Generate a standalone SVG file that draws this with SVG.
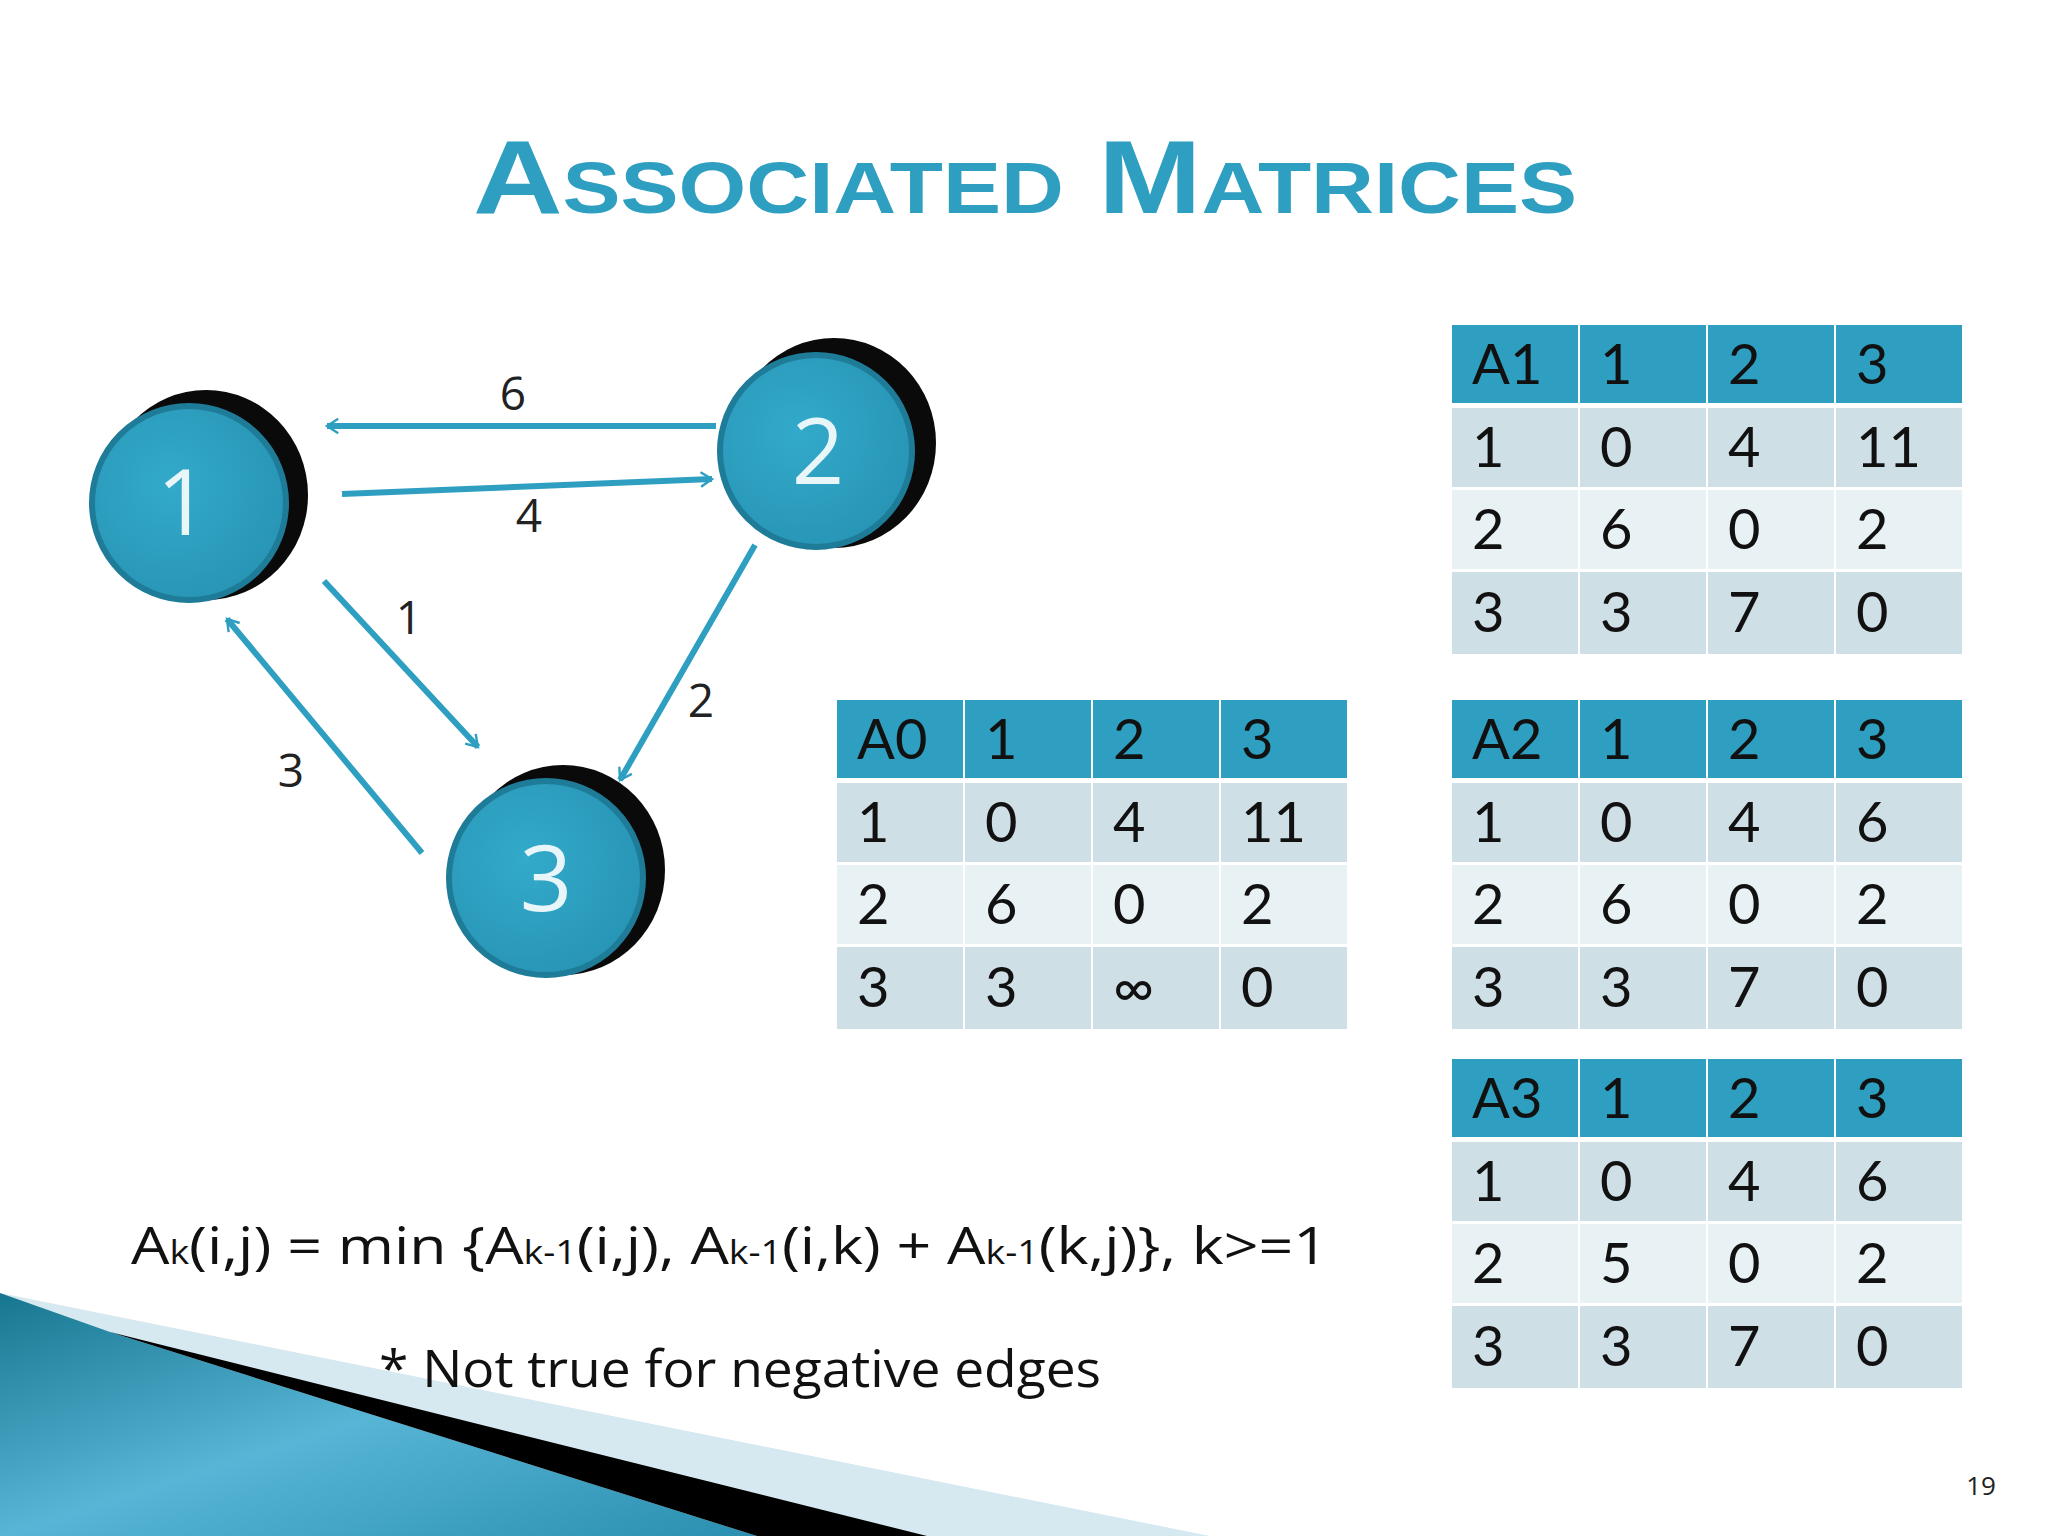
<svg xmlns="http://www.w3.org/2000/svg" width="2048" height="1536" viewBox="0 0 2048 1536">
<style>
.h{fill:#2E9FC1}.o{fill:#CFDFE6}.e{fill:#E8F1F4}
.t{font-family:Lato,"Open Sans",sans-serif;font-size:56px;fill:#111}
.lbl{font-family:"Open Sans",sans-serif;font-size:46px;fill:#222}
.edge{stroke:#2E9FC1;stroke-width:6;fill:none;marker-end:url(#ah)}
.nt{font-family:"Open Sans",sans-serif;font-size:92px;fill:#E8F6FA}
.f{font-family:"Open Sans",sans-serif;font-size:52px;fill:#111}
</style>
<defs>
<marker id="ah" viewBox="0 0 20 20" refX="18" refY="10" markerWidth="8" markerHeight="8" orient="auto" markerUnits="userSpaceOnUse" style="overflow:visible">
<path d="M-10,-8 L18,10 L-10,28" fill="none" stroke="#2E9FC1" stroke-width="6"/>
</marker>
<linearGradient id="tg" x1="0" y1="0" x2="1" y2="1">
<stop offset="0" stop-color="#17768F"/><stop offset="0.5" stop-color="#57B5D6"/><stop offset="1" stop-color="#2A8FB0"/>
</linearGradient>
<radialGradient id="ng" cx="0.4" cy="0.4" r="0.7">
<stop offset="0" stop-color="#33AACB"/><stop offset="1" stop-color="#2793B3"/>
</radialGradient>
<g id="tbl">
<rect class="h" x="0" y="0" width="126" height="78"/><rect class="h" x="128" y="0" width="126" height="78"/><rect class="h" x="256" y="0" width="126" height="78"/><rect class="h" x="384" y="0" width="126" height="78"/>
<rect class="o" x="0" y="83" width="126" height="79"/><rect class="o" x="128" y="83" width="126" height="79"/><rect class="o" x="256" y="83" width="126" height="79"/><rect class="o" x="384" y="83" width="126" height="79"/>
<rect class="e" x="0" y="165" width="126" height="79"/><rect class="e" x="128" y="165" width="126" height="79"/><rect class="e" x="256" y="165" width="126" height="79"/><rect class="e" x="384" y="165" width="126" height="79"/>
<rect class="o" x="0" y="247" width="126" height="82"/><rect class="o" x="128" y="247" width="126" height="82"/><rect class="o" x="256" y="247" width="126" height="82"/><rect class="o" x="384" y="247" width="126" height="82"/>
</g>
</defs>
<rect width="2048" height="1536" fill="#fff"/>
<polygon points="0,1293 1210,1536 0,1536" fill="#D6E8F0"/>
<polygon points="0,1293 110,1332 757,1536 0,1536" fill="url(#tg)"/>
<polygon points="110,1332 927,1536 757,1536" fill="#000"/>
<text x="1025" y="213" text-anchor="middle" font-family="'Liberation Sans',sans-serif" font-weight="bold" font-size="104" font-variant="small-caps" fill="#2E9FC1" textLength="1104" lengthAdjust="spacingAndGlyphs">Associated Matrices</text>

<g id="connectors">
<line class="edge" x1="716" y1="426" x2="327" y2="426"/>
<line class="edge" x1="342" y1="494" x2="712" y2="479"/>
<line class="edge" x1="324" y1="581" x2="478" y2="747"/>
<line class="edge" x1="755" y1="545" x2="620" y2="780"/>
<line class="edge" x1="422" y1="853" x2="227" y2="619"/>
<text class="lbl" x="513" y="410" text-anchor="middle">6</text>
<text class="lbl" x="529" y="532" text-anchor="middle">4</text>
<text class="lbl" x="409" y="634" text-anchor="middle">1</text>
<text class="lbl" x="701" y="717" text-anchor="middle">2</text>
<text class="lbl" x="291" y="787" text-anchor="middle">3</text>
</g>

<g id="node1"><ellipse cx="206" cy="495" rx="102" ry="105" fill="#0a0a0a"/><circle cx="189" cy="503" r="97" fill="url(#ng)" stroke="#1E7C98" stroke-width="6"/><text class="nt" x="183" y="535" text-anchor="middle">1</text></g>
<g id="node2"><ellipse cx="834" cy="443" rx="102" ry="105" fill="#0a0a0a"/><circle cx="816" cy="451" r="96" fill="url(#ng)" stroke="#1E7C98" stroke-width="6"/><text class="nt" x="818" y="484" text-anchor="middle">2</text></g>
<g id="node3"><ellipse cx="563" cy="870" rx="102" ry="105" fill="#0a0a0a"/><circle cx="546" cy="878" r="97" fill="url(#ng)" stroke="#1E7C98" stroke-width="6"/><text class="nt" x="546" y="911" text-anchor="middle">3</text></g>

<g id="A0" transform="translate(837,700)"><use href="#tbl"/>
<text class="t" x="20" y="59">A0</text><text class="t" x="148" y="59">1</text><text class="t" x="276" y="59">2</text><text class="t" x="404" y="59">3</text>
<text class="t" x="20" y="142">1</text><text class="t" x="148" y="142">0</text><text class="t" x="276" y="142">4</text><text class="t" x="404" y="142">11</text>
<text class="t" x="20" y="224">2</text><text class="t" x="148" y="224">6</text><text class="t" x="276" y="224">0</text><text class="t" x="404" y="224">2</text>
<text class="t" x="20" y="307">3</text><text class="t" x="148" y="307">3</text><text class="t" x="276" y="307">∞</text><text class="t" x="404" y="307">0</text></g>

<g id="A1" transform="translate(1452,325)"><use href="#tbl"/>
<text class="t" x="20" y="59">A1</text><text class="t" x="148" y="59">1</text><text class="t" x="276" y="59">2</text><text class="t" x="404" y="59">3</text>
<text class="t" x="20" y="142">1</text><text class="t" x="148" y="142">0</text><text class="t" x="276" y="142">4</text><text class="t" x="404" y="142">11</text>
<text class="t" x="20" y="224">2</text><text class="t" x="148" y="224">6</text><text class="t" x="276" y="224">0</text><text class="t" x="404" y="224">2</text>
<text class="t" x="20" y="307">3</text><text class="t" x="148" y="307">3</text><text class="t" x="276" y="307">7</text><text class="t" x="404" y="307">0</text></g>

<g id="A2" transform="translate(1452,700)"><use href="#tbl"/>
<text class="t" x="20" y="59">A2</text><text class="t" x="148" y="59">1</text><text class="t" x="276" y="59">2</text><text class="t" x="404" y="59">3</text>
<text class="t" x="20" y="142">1</text><text class="t" x="148" y="142">0</text><text class="t" x="276" y="142">4</text><text class="t" x="404" y="142">6</text>
<text class="t" x="20" y="224">2</text><text class="t" x="148" y="224">6</text><text class="t" x="276" y="224">0</text><text class="t" x="404" y="224">2</text>
<text class="t" x="20" y="307">3</text><text class="t" x="148" y="307">3</text><text class="t" x="276" y="307">7</text><text class="t" x="404" y="307">0</text></g>

<g id="A3" transform="translate(1452,1059)"><use href="#tbl"/>
<text class="t" x="20" y="59">A3</text><text class="t" x="148" y="59">1</text><text class="t" x="276" y="59">2</text><text class="t" x="404" y="59">3</text>
<text class="t" x="20" y="142">1</text><text class="t" x="148" y="142">0</text><text class="t" x="276" y="142">4</text><text class="t" x="404" y="142">6</text>
<text class="t" x="20" y="224">2</text><text class="t" x="148" y="224">5</text><text class="t" x="276" y="224">0</text><text class="t" x="404" y="224">2</text>
<text class="t" x="20" y="307">3</text><text class="t" x="148" y="307">3</text><text class="t" x="276" y="307">7</text><text class="t" x="404" y="307">0</text></g>

<text class="f" x="131" y="1264" textLength="1197" lengthAdjust="spacingAndGlyphs">A<tspan font-size="32">k</tspan>(i,j) = min {A<tspan font-size="32">k-1</tspan>(i,j), A<tspan font-size="32">k-1</tspan>(i,k) + A<tspan font-size="32">k-1</tspan>(k,j)},  k&gt;=1</text>
<text class="f" x="379" y="1387" textLength="722" lengthAdjust="spacingAndGlyphs">* Not true for negative edges</text>
<text x="1981" y="1495" text-anchor="middle" font-family="'Open Sans',sans-serif" font-size="26" fill="#222">19</text>
</svg>
